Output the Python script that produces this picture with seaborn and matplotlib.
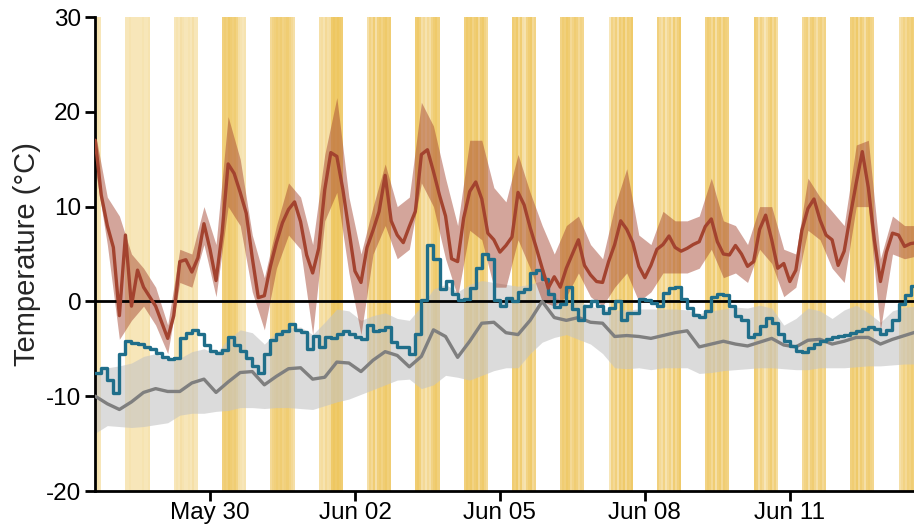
import matplotlib
matplotlib.use("Agg")
import matplotlib.pyplot as plt
import pandas as pd
import seaborn as sns

# Mean air temperature (3-hourly), with min/max envelope (6-hourly)
air_temp = [17.0, 11.2, 8.0, 5.7, -1.5, 7.0, -0.5, 3.3, 1.5, 0.5,
            -0.5, -2.2, -3.9, -1.5, 4.2, 4.4, 3.1, 4.6, 8.2, 5.5,
            2.2, 7.2, 14.5, 13.5, 11.5, 9.3, 4.6, 0.4, 0.6, 3.7,
            6.2, 8.3, 9.7, 10.5, 8.4, 4.9, 3.0, 5.6, 11.8, 15.7,
            15.3, 11.8, 7.5, 3.2, 2.0, 5.7, 7.5, 9.5, 13.3, 8.5,
            7.0, 6.2, 7.9, 9.5, 15.5, 16.0, 13.7, 11.2, 9.0, 4.5,
            4.2, 8.8, 11.6, 12.6, 10.8, 7.2, 6.5, 5.2, 5.9, 6.8,
            11.5, 10.2, 7.8, 5.7, 3.5, 1.4, 2.6, 1.5, 3.5, 5.0,
            6.5, 3.8, 2.8, 2.1, 2.0, 4.2, 6.0, 8.5, 7.6, 6.2,
            3.7, 2.5, 3.8, 5.5, 6.0, 6.9, 5.7, 5.3, 5.6, 6.0,
            6.3, 7.9, 8.7, 6.3, 5.0, 4.9, 5.9, 5.0, 3.7, 4.2,
            7.6, 9.1, 6.5, 3.5, 4.0, 2.1, 3.3, 7.5, 9.8, 10.8,
            8.6, 7.0, 6.5, 3.8, 5.3, 9.0, 12.5, 15.8, 12.0, 6.5,
            2.1, 5.2, 7.2, 7.0, 5.8, 6.1, 6.2]
air_low = [14.0, 6.0, -4.0, -2.0, -0.5, -2.5, -5.5, 2.0, 1.5, 6.0,
           0.5, 10.0, 8.0, 1.0, -3.0, 3.5, 7.0, 5.5, -3.5, 8.5,
           11.5, 3.0, -3.5, 5.0, 8.0, 4.5, 5.5, 12.5, 10.0, 4.5,
           0.5, 7.5, 6.5, 1.5, 1.5, 6.5, 3.5, 0.0, -0.5, 0.5,
           3.0, 0.5, -0.5, 1.5, 3.0, 0.0, 1.0, 3.0, 3.0, 3.0,
           3.5, 5.5, 2.5, 3.0, 2.0, 5.5, 4.0, 0.5, 1.5, 7.5,
           6.5, 3.5, 2.0, 10.0, 10.0, -3.0, 5.0, 4.5, 4.8]
air_high = [17.8, 11.0, 9.0, 5.0, 3.5, 1.5, -2.5, 5.5, 5.0, 10.0,
            6.0, 19.5, 15.0, 7.0, 2.5, 8.0, 12.5, 11.0, 6.0, 15.5,
            21.5, 11.0, 5.0, 10.0, 14.5, 10.0, 11.0, 21.0, 18.5, 13.0,
            8.0, 17.0, 17.0, 12.0, 10.5, 15.5, 11.5, 8.0, 5.0, 8.0,
            9.0, 6.0, 4.5, 10.0, 14.0, 7.0, 6.0, 9.5, 8.5, 8.5,
            9.0, 13.0, 8.5, 8.0, 6.0, 10.0, 10.0, 5.5, 5.0, 13.0,
            11.0, 9.5, 8.0, 16.5, 17.0, 4.5, 9.0, 8.0, 8.0]

# Surface temperature (3-hourly, stepped)
surface_temp = [-7.6, -7.0, -8.3, -9.7, -5.5, -4.2, -4.4, -4.5, -4.8, -5.0,
                -5.4, -5.9, -6.1, -6.0, -3.9, -3.3, -3.0, -3.4, -4.6, -5.2,
                -5.4, -5.1, -3.8, -4.6, -5.2, -6.0, -6.8, -7.5, -5.5, -4.1,
                -3.4, -3.1, -2.4, -3.0, -3.2, -5.0, -3.6, -4.8, -3.8, -3.9,
                -3.4, -3.1, -3.4, -3.8, -4.0, -2.5, -3.1, -3.0, -2.7, -4.3,
                -4.8, -4.8, -5.5, -3.4, 0.1, 5.9, 4.5, 1.3, 2.2, 0.8,
                0.2, 0.3, 1.4, 3.5, 5.0, 4.5, 0.1, -0.5, 0.4, 0.0,
                1.0, 1.3, 3.0, 3.3, 2.4, 0.8, -0.6, -0.3, 1.5, -0.8,
                -2.0, -0.5, 0.0, -0.5, -1.2, -0.7, 0.0, -2.0, -1.2, -1.2,
                0.3, 0.2, -0.2, -0.5, 0.9, 1.4, 1.5, 0.3, -0.7, -1.4,
                -1.6, -1.0, 0.5, 0.8, 0.7, -0.5, -1.5, -2.0, -3.8, -3.4,
                -2.6, -1.7, -2.3, -3.4, -4.2, -4.7, -5.2, -5.3, -4.9, -4.5,
                -4.2, -4.0, -3.8, -3.7, -3.5, -3.3, -3.1, -2.9, -2.7, -2.9,
                -3.4, -3.0, -2.0, -0.3, 0.7, 1.6, 2.0]

# Snow temperature (6-hourly) with its spread
snow_temp = [-10.0, -10.8, -11.4, -10.6, -9.6, -9.2, -9.5, -9.5, -8.6, -8.2,
             -9.6, -8.5, -7.5, -7.4, -8.8, -7.9, -7.1, -7.0, -8.2, -8.0,
             -6.4, -6.5, -7.4, -6.2, -5.3, -5.7, -6.9, -5.8, -3.0, -3.7,
             -5.9, -4.2, -2.3, -2.2, -3.3, -3.5, -2.0, 0.0, -1.7, -2.0,
             -1.7, -2.2, -2.3, -3.7, -3.6, -3.7, -3.9, -3.6, -3.3, -3.1,
             -4.8, -4.5, -4.2, -4.5, -4.7, -4.3, -3.9, -4.6, -4.8, -4.1,
             -4.0, -4.5, -4.2, -3.8, -3.8, -4.5, -4.0, -3.6, -3.2]
snow_low = [-13.9, -13.1, -13.2, -13.3, -13.2, -13.0, -12.8, -12.0, -11.8, -11.8,
            -11.6, -11.5, -11.2, -11.2, -11.3, -11.2, -11.2, -11.3, -11.4, -11.0,
            -10.6, -10.3, -9.8, -9.3, -8.8, -8.3, -8.2, -9.2, -8.8, -7.8,
            -8.0, -8.3, -7.8, -7.3, -7.0, -7.0, -5.5, -4.3, -3.8, -3.5,
            -4.0, -4.5, -5.5, -7.0, -7.1, -7.0, -7.2, -7.0, -7.0, -7.0,
            -7.6, -7.5, -7.3, -7.2, -7.1, -7.0, -7.0, -7.1, -7.2, -7.2,
            -7.0, -7.0, -7.0, -6.9, -6.8, -6.8, -6.7, -6.6, -6.6]
snow_high = [-7.5, -7.0, -6.8, -6.5, -5.8, -5.5, -6.2, -6.0, -5.3, -5.0,
             -5.5, -4.0, -3.0, -3.3, -4.5, -3.3, -2.8, -2.7, -3.5, -2.2,
             -0.8, -1.0, -2.0, -1.5, -1.2, -1.8, -2.0, -0.5, 1.3, 1.8,
             1.0, 1.8, 2.2, 2.0, 1.8, 1.6, 1.8, 2.2, 0.5, -0.3,
             0.0, -0.5, -0.8, -0.9, -0.9, -0.8, -0.8, -0.8, -0.8, -0.9,
             -1.3, -1.0, -0.8, -0.6, -0.7, -0.4, -0.7, -2.5, -1.8, -0.7,
             -1.0, -1.8, -0.9, -0.4, -1.2, -2.2, -1.0, -0.6, -0.5]

# Hourly sunshine fraction, 06:00-18:00, one row per day from May 27
sunshine = [
    [0.40, 0.40, 0.40, 0.40, 0.40, 0.40, 0.40, 0.40, 0.40, 0.40, 0.45, 0.40],
    [0.40, 0.40, 0.45, 0.40, 0.40, 0.40, 0.40, 0.40, 0.45, 0.40, 0.40, 0.45],
    [0.40, 0.45, 0.40, 0.50, 0.45, 0.40, 0.40, 0.45, 0.40, 0.50, 0.40, 0.40],
    [0.75, 0.80, 0.75, 0.85, 0.80, 0.75, 0.80, 0.70, 0.50, 0.45, 0.40, 0.45],
    [0.60, 0.70, 0.75, 0.80, 0.75, 0.80, 0.70, 0.75, 0.80, 0.70, 0.60, 0.50],
    [0.50, 0.55, 0.45, 0.60, 0.50, 0.55, 0.85, 0.90, 0.85, 0.90, 0.85, 0.80],
    [0.50, 0.70, 0.60, 0.80, 0.50, 0.75, 0.80, 0.70, 0.80, 0.85, 0.75, 0.80],
    [0.80, 0.85, 0.75, 0.50, 0.60, 0.45, 0.60, 0.50, 0.70, 0.80, 0.85, 0.75],
    [0.75, 0.85, 0.80, 0.85, 0.70, 0.80, 0.85, 0.60, 0.80, 0.85, 0.70, 0.60],
    [0.80, 0.75, 0.85, 0.60, 0.80, 0.50, 0.45, 0.70, 0.80, 0.85, 0.60, 0.70],
    [0.70, 0.80, 0.75, 0.85, 0.80, 0.60, 0.70, 0.80, 0.75, 0.60, 0.70, 0.65],
    [0.40, 0.70, 0.60, 0.75, 0.50, 0.80, 0.70, 0.85, 0.60, 0.80, 0.75, 0.85],
    [0.75, 0.60, 0.50, 0.70, 0.45, 0.60, 0.70, 0.50, 0.80, 0.60, 0.75, 0.85],
    [0.70, 0.80, 0.75, 0.60, 0.80, 0.50, 0.75, 0.80, 0.60, 0.80, 0.75, 0.70],
    [0.80, 0.75, 0.50, 0.70, 0.60, 0.40, 0.55, 0.70, 0.80, 0.60, 0.75, 0.55],
    [0.60, 0.70, 0.75, 0.50, 0.75, 0.80, 0.65, 0.50, 0.70, 0.75, 0.60, 0.70],
    [0.75, 0.80, 0.70, 0.85, 0.60, 0.80, 0.70, 0.50, 0.75, 0.80, 0.70, 0.65],
    [0.50, 0.60, 0.70, 0.60, 0.75, 0.70, 0.80, 0.75, 0.70, 0.60, 0.70, 0.60],
]

tick_dates = ["2019-05-30", "2019-06-02", "2019-06-05", "2019-06-08", "2019-06-11"]
tick_labels = ["May 30", "Jun 02", "Jun 05", "Jun 08", "Jun 11"]

start = pd.Timestamp("2019-05-27 15:00")
first_day = pd.Timestamp("2019-05-27")
times_3h = pd.date_range(start, periods=len(air_temp), freq="3h")
times_6h = pd.date_range(start, periods=len(snow_temp), freq="6h")

AIR = "#a3432f"
SURFACE = "#1f6e8a"
SNOW = "#7f7f7f"
SUN = "#edc150"

sns.set_style("ticks")
plt.rcParams["font.family"] = ["Liberation Sans", "DejaVu Sans"]

fig = plt.figure(figsize=(9.14, 5.27), dpi=100)
ax = fig.add_axes([0.1042, 0.0683, 0.8987, 0.8994])

# daylight hours shaded by sunshine
for d, hours in enumerate(sunshine):
    day = first_day + pd.Timedelta(days=d)
    for h, a in enumerate(hours):
        s = day + pd.Timedelta(hours=6 + h)
        ax.axvspan(s, s + pd.Timedelta(hours=1), color=SUN, alpha=a,
                   lw=0, zorder=0)

ax.fill_between(times_6h, snow_low, snow_high, color="#c4c4c4", alpha=0.6,
                lw=0, zorder=1)
ax.fill_between(times_6h, air_low, air_high, color=AIR, alpha=0.48,
                lw=0, zorder=2)
ax.axhline(0, color="black", lw=2, zorder=3)

sns.lineplot(x=times_6h, y=snow_temp, color=SNOW, lw=2.4, ax=ax, zorder=4)
sns.lineplot(x=times_3h, y=surface_temp, color=SURFACE, lw=2.4,
             drawstyle="steps-post", ax=ax, zorder=5)
sns.lineplot(x=times_3h, y=air_temp, color=AIR, lw=2.4, ax=ax, zorder=6)

ax.set_xlim(times_3h[0], times_3h[-1])
ax.set_ylim(-20, 30)
ax.set_yticks([-20, -10, 0, 10, 20, 30])
ax.set_yticklabels(["-20", "-10", "0", "10", "20", "30"])
ax.set_xticks(pd.to_datetime(tick_dates))
ax.set_xticklabels(tick_labels)

for side in ["top", "right"]:
    ax.spines[side].set_visible(False)
for side in ["left", "bottom"]:
    ax.spines[side].set_linewidth(2)
    ax.spines[side].set_color("black")
ax.tick_params(axis="both", length=7, width=2, color="black",
               labelsize=17.5, labelcolor="black", pad=3)
ax.tick_params(axis="x", pad=1)
ax.set_ylabel("Temperature (°C)", fontsize=21)
ax.yaxis.set_label_coords(-0.066, 0.5)
ax.set_xlabel("")

fig.savefig("out.png", dpi=100)
